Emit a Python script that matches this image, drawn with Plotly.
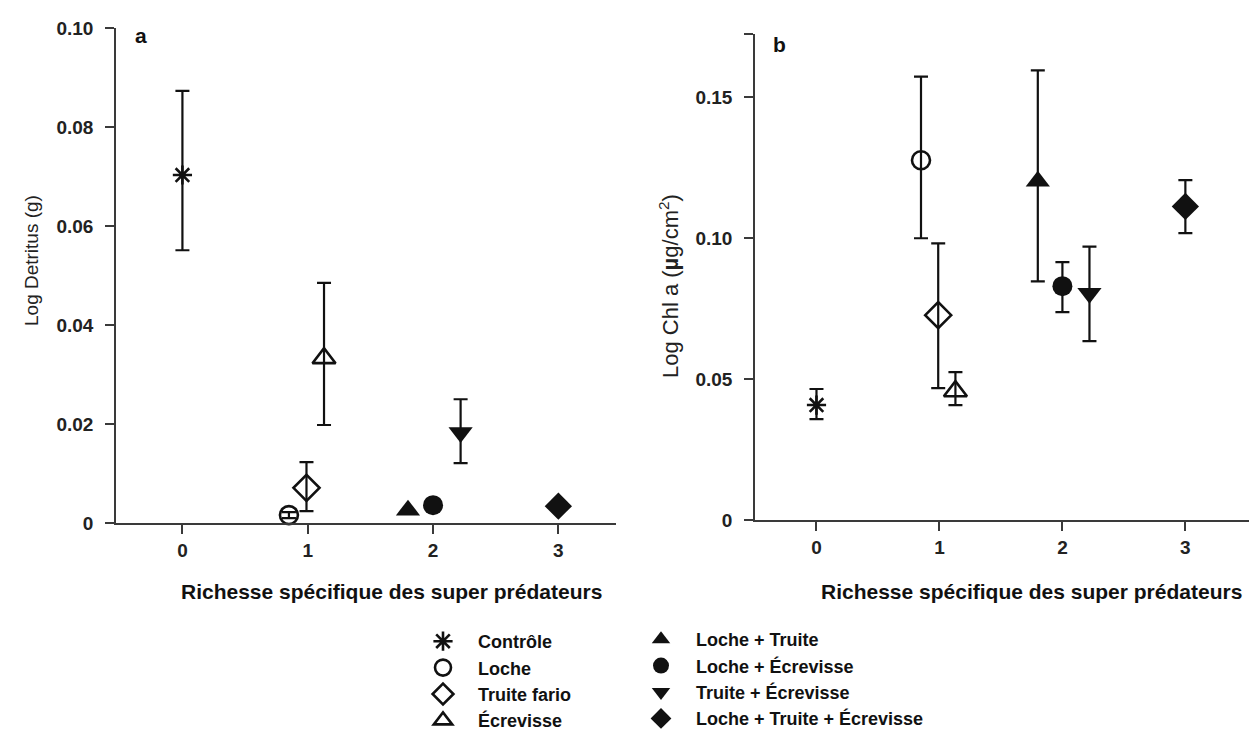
import plotly.graph_objects as go

# ---- data ----
groups = ["Contrôle", "Loche", "Truite fario", "Écrevisse",
          "Loche + Truite", "Loche + Écrevisse", "Truite + Écrevisse",
          "Loche + Truite + Écrevisse"]
x_pos = [0.0, 0.85, 0.99, 1.13, 1.80, 2.00, 2.22, 3.00]

detritus = [0.0703, 0.0016, 0.0071, 0.0333, 0.0026, 0.0036, 0.0183, 0.0034]
det_plus = [0.0170, 0.0006, 0.0052, 0.0152, 0.0, 0.0, 0.0067, 0.0]
det_minus = [0.0152, 0.0006, 0.0047, 0.0135, 0.0, 0.0, 0.0062, 0.0]

chl = [0.0408, 0.1277, 0.0727, 0.0457, 0.1202, 0.0830, 0.0805, 0.1113]
chl_plus = [0.0057, 0.0297, 0.0255, 0.0068, 0.0394, 0.0085, 0.0165, 0.0093]
chl_minus = [0.0050, 0.0277, 0.0259, 0.0049, 0.0355, 0.0092, 0.0170, 0.0095]

symbols = ["asterisk-open", "circle-open", "diamond-open", "triangle-up-open",
           "triangle-up", "circle", "triangle-down", "diamond"]
sizes = [16, 18, 20, 20, 21, 20, 21, 21]

x_ticks = [0, 1, 2, 3]
det_ticks = [0, 0.02, 0.04, 0.06, 0.08, 0.10]
det_ticktext = ["0", "0.02", "0.04", "0.06", "0.08", "0.10"]
chl_ticks = [0, 0.05, 0.10, 0.15]
chl_ticktext = ["0", "0.05", "0.10", "0.15"]
chl_top = 0.1725

FONT = "Liberation Sans, Arial, sans-serif"
INK = "#111111"
AXC = "#3a3a3a"

fig = go.Figure()
for i, g in enumerate(groups):
    open_sym = symbols[i].endswith("open")
    marker = dict(symbol=symbols[i], size=sizes[i], color=INK,
                  line=dict(color=INK, width=2.6 if open_sym else 0))
    leg = "legend" if i < 4 else "legend2"
    fig.add_trace(go.Scatter(
        x=[x_pos[i]], y=[detritus[i]], mode="markers", name=g,
        marker=marker, cliponaxis=False, legend=leg, legendgroup=g,
        error_y=dict(type="data", array=[det_plus[i]], arrayminus=[det_minus[i]],
                     visible=(det_plus[i] + det_minus[i]) > 0,
                     color=INK, thickness=2.2, width=7),
        xaxis="x", yaxis="y", showlegend=True))
    fig.add_trace(go.Scatter(
        x=[x_pos[i]], y=[chl[i]], mode="markers", name=g,
        marker=marker, cliponaxis=False, legend=leg, legendgroup=g,
        error_y=dict(type="data", array=[chl_plus[i]], arrayminus=[chl_minus[i]],
                     color=INK, thickness=2.2, width=7),
        xaxis="x2", yaxis="y2", showlegend=False))

axis_common = dict(showline=True, linecolor=AXC, linewidth=1.5,
                   ticks="outside", ticklen=9, tickwidth=1.5, tickcolor=AXC,
                   showgrid=False, zeroline=False, automargin=False,
                   tickfont=dict(family=FONT, size=19, color="#222222", weight="bold"))

legend_common = dict(xanchor="left", yanchor="top",
                     font=dict(family=FONT, size=18, color=INK, weight="bold"),
                     tracegroupgap=0, bgcolor="rgba(0,0,0,0)", itemwidth=60)

fig.update_layout(
    width=1257, height=736,
    margin=dict(l=0, r=0, t=0, b=0, autoexpand=False),
    paper_bgcolor="white", plot_bgcolor="white",
    font=dict(family=FONT, color=INK),
    xaxis=dict(domain=[108 / 1257, 608 / 1257], range=[-0.53, 3.46],
               tickvals=x_ticks, anchor="y", **axis_common),
    yaxis=dict(domain=[1 - 515 / 736, 1 - 20 / 736], range=[0, 0.10],
               tickvals=det_ticks, ticktext=det_ticktext, anchor="x",
               ticklabelstandoff=8, **axis_common),
    xaxis2=dict(domain=[747 / 1257, 1245 / 1257], range=[-0.50, 3.55],
                tickvals=x_ticks, anchor="y2", **axis_common),
    yaxis2=dict(domain=[1 - 512 / 736, 1 - 26 / 736], range=[0, chl_top],
                tickvals=chl_ticks, ticktext=chl_ticktext, anchor="x2",
                ticklabelstandoff=8,
                minor=dict(tickmode="array", tickvals=[chl_top], ticks="outside",
                           ticklen=9, tickwidth=1.5, tickcolor=AXC, showgrid=False),
                **axis_common),
    legend=dict(x=400 / 1257, y=1 - 615 / 736, **legend_common),
    legend2=dict(x=618 / 1257, y=1 - 613 / 736, **legend_common),
    annotations=[
        dict(text="<b>a</b>", x=125 / 1257, y=1 - 27 / 736, xref="paper", yref="paper",
             xanchor="left", yanchor="middle", showarrow=False,
             font=dict(family=FONT, size=21, color=INK)),
        dict(text="<b>b</b>", x=763 / 1257, y=1 - 36 / 736, xref="paper", yref="paper",
             xanchor="left", yanchor="middle", showarrow=False,
             font=dict(family=FONT, size=21, color=INK)),
        dict(text="Log Detritus (g)", textangle=-90, x=23 / 1257, y=1 - 253 / 736,
             xref="paper", yref="paper", xanchor="center", yanchor="middle",
             showarrow=False, font=dict(family=FONT, size=19, color="#222222")),
        dict(text="Log Chl a (<b>µ</b>g/cm<sup>2</sup>)", textangle=-90,
             x=661 / 1257, y=1 - 278 / 736, xref="paper", yref="paper",
             xanchor="center", yanchor="middle", showarrow=False,
             font=dict(family=FONT, size=22, color="#222222")),
        dict(text="<b>Richesse spécifique des super prédateurs</b>", x=383 / 1257,
             y=1 - 583 / 736, xref="paper", yref="paper", xanchor="center",
             yanchor="middle", showarrow=False,
             font=dict(family=FONT, size=21, color=INK)),
        dict(text="<b>Richesse spécifique des super prédateurs</b>", x=1023 / 1257,
             y=1 - 583 / 736, xref="paper", yref="paper", xanchor="center",
             yanchor="middle", showarrow=False,
             font=dict(family=FONT, size=21, color=INK)),
    ],
)

fig.write_html("out.html")
